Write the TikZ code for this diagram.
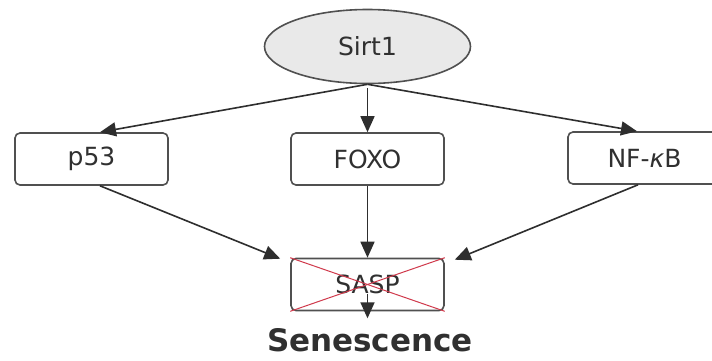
\documentclass[tikz,border=0pt]{standalone}
\usepackage{fontspec}
\setmainfont{DejaVu Sans}
\usetikzlibrary{shapes.geometric,arrows.meta,calc}
\definecolor{edgegray}{HTML}{2E2E2E}
\definecolor{boxgray}{HTML}{505050}
\definecolor{fillgray}{HTML}{E9E9E9}
\definecolor{txtgray}{HTML}{303030}
\definecolor{xred}{HTML}{D03A4C}
\tikzset{
  lbl/.style={font=\fontsize{25}{28}\selectfont, text=txtgray},
  boxnode/.style={lbl, draw=boxgray, line width=1.6pt, fill=white, rounded corners=5pt,
    minimum width=153pt, minimum height=52pt, inner sep=0pt},
  ellnode/.style={lbl, ellipse, draw=boxgray, line width=1.6pt, fill=fillgray,
    minimum width=206pt, minimum height=74pt, inner sep=0pt},
  conn/.style={draw=edgegray, line width=1.6pt, -{Triangle[length=16pt,width=14pt]}},
  xline/.style={draw=xred, line width=1pt},
  titlelbl/.style={font=\bfseries\fontsize{31}{34}\selectfont, text=txtgray,
    inner sep=0pt, anchor=base}
}
\begin{document}
\begin{tikzpicture}[x=1pt,y=-1pt]
\clip (0,0) rectangle (712,360);
\fill[white] (0,0) rectangle (712,360);
\node[ellnode] (sirt) at (367.5,46.5) {Sirt1};
\node[boxnode] (p53) at (91.5,159) {p53};
\node[boxnode] (foxo) at (367.5,159) {FOXO};
\node[boxnode] (nfkb) at (644.5,158) {NF-\textit{κ}B};
\node[boxnode] (sasp) at (367.5,284.5) {SASP};
\node[titlelbl] (sen) at (370,351) {Senescence};
% red cross over SASP
\draw[xline] (sasp.north west) -- (sasp.south east);
\draw[xline] (sasp.north east) -- (sasp.south west);
% connectors from Sirt1
\draw[conn] (sirt.south) -- ([xshift=8.5pt]p53.north);
\draw[conn] ([yshift=-4pt]sirt.south) -- (foxo.north);
\draw[conn] (sirt.south) -- ([xshift=-7.5pt]nfkb.north);
% connectors to SASP
\draw[conn] ([xshift=8.5pt]p53.south) -- ([xshift=-10pt,yshift=-1pt]sasp.north west);
\draw[conn] (foxo.south) -- (sasp.north);
\draw[conn] ([xshift=-6.5pt]nfkb.south) -- ([xshift=10pt,yshift=-2pt]sasp.north east);
% SASP to Senescence
\draw[conn] ([yshift=-9pt]sasp.center) -- ([yshift=-7pt]sasp.south);
\end{tikzpicture}
\end{document}
